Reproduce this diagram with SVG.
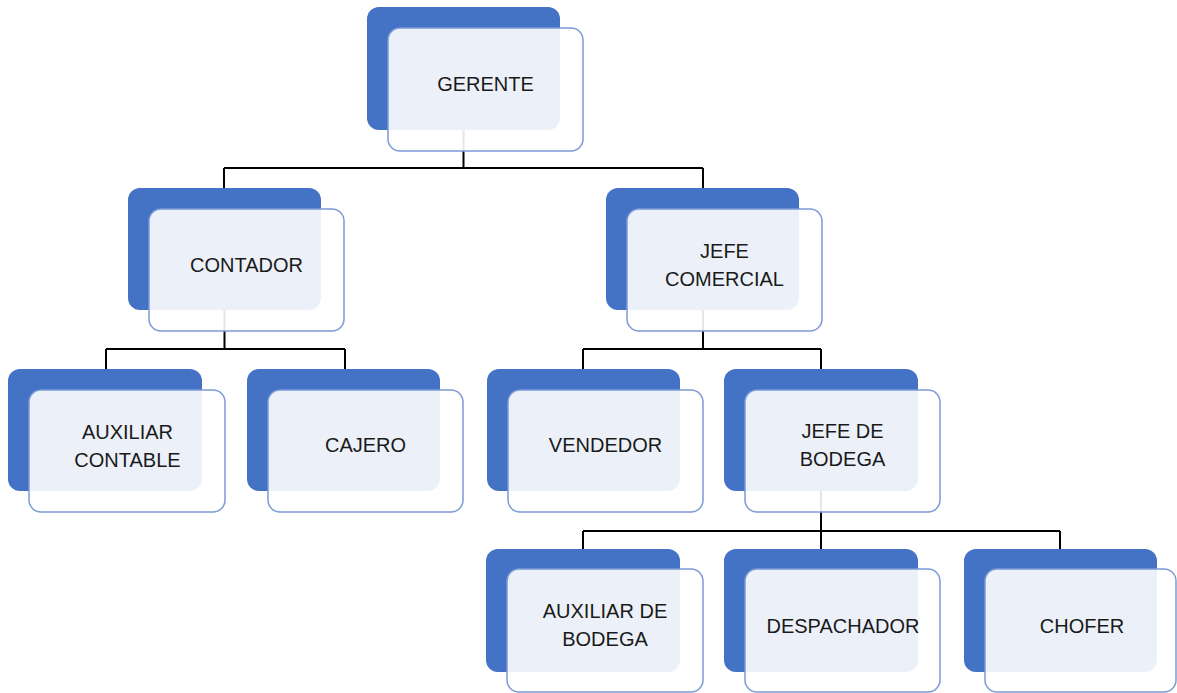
<svg xmlns="http://www.w3.org/2000/svg" width="1177" height="693" viewBox="0 0 1177 693">
<style>
.back{fill:#4472C4}
.front{fill:#FFFFFF;fill-opacity:0.9;stroke:#7C9BD6;stroke-width:1.5}
.t{font-family:"Liberation Sans",Arial,sans-serif;font-size:20px;fill:#1a1a1a;text-anchor:middle}
.c{fill:none;stroke:#000;stroke-width:2}
</style>
<rect width="1177" height="693" fill="#FFFFFF"/>
<g id="connectors">
<path class="c" d="M463.5 130V168M224 168H703M224 168V188M703 168V188"/>
<path class="c" d="M224.5 310V349M106 349H345M106 349V369M345 349V369"/>
<path class="c" d="M703 310V349M583 349H821M583 349V369M821 349V369"/>
<path class="c" d="M821 491V531M583 531H1060M583 531V549M821 531V549M1060 531V549"/>
</g>
<g id="gerente">
<rect class="back" x="367" y="7" width="193" height="123" rx="12"/>
<rect class="front" x="388" y="28" width="195" height="123" rx="12"/>
<text class="t" x="485.5" y="91">GERENTE</text>
</g>
<g id="contador">
<rect class="back" x="128" y="188" width="193" height="122" rx="12"/>
<rect class="front" x="149" y="209" width="195" height="122" rx="12"/>
<text class="t" x="246.5" y="272">CONTADOR</text>
</g>
<g id="jefe-comercial">
<rect class="back" x="606" y="188" width="193" height="122" rx="12"/>
<rect class="front" x="627" y="209" width="195" height="122" rx="12"/>
<text class="t" x="724.5" y="258">JEFE</text>
<text class="t" x="724.5" y="286">COMERCIAL</text>
</g>
<g id="auxiliar-contable">
<rect class="back" x="8" y="369" width="194" height="122" rx="12"/>
<rect class="front" x="29" y="390" width="196" height="122" rx="12"/>
<text class="t" x="127.5" y="439">AUXILIAR</text>
<text class="t" x="127.5" y="467">CONTABLE</text>
</g>
<g id="cajero">
<rect class="back" x="247" y="369" width="193" height="122" rx="12"/>
<rect class="front" x="268" y="390" width="195" height="122" rx="12"/>
<text class="t" x="365.5" y="452">CAJERO</text>
</g>
<g id="vendedor">
<rect class="back" x="487" y="369" width="193" height="122" rx="12"/>
<rect class="front" x="508" y="390" width="195" height="122" rx="12"/>
<text class="t" x="605.5" y="452">VENDEDOR</text>
</g>
<g id="jefe-de-bodega">
<rect class="back" x="724" y="369" width="194" height="122" rx="12"/>
<rect class="front" x="745" y="390" width="195" height="122" rx="12"/>
<text class="t" x="842.5" y="438">JEFE DE</text>
<text class="t" x="842.5" y="466">BODEGA</text>
</g>
<g id="auxiliar-de-bodega">
<rect class="back" x="486" y="549" width="194" height="123" rx="12"/>
<rect class="front" x="507" y="569" width="196" height="123" rx="12"/>
<text class="t" x="605" y="618">AUXILIAR DE</text>
<text class="t" x="605" y="646">BODEGA</text>
</g>
<g id="despachador">
<rect class="back" x="724" y="549" width="194" height="123" rx="12"/>
<rect class="front" x="745" y="569" width="195" height="123" rx="12"/>
<text class="t" x="843" y="633">DESPACHADOR</text>
</g>
<g id="chofer">
<rect class="back" x="964" y="549" width="193" height="123" rx="12"/>
<rect class="front" x="985" y="569" width="191" height="123" rx="12"/>
<text class="t" x="1082" y="633">CHOFER</text>
</g>
</svg>
